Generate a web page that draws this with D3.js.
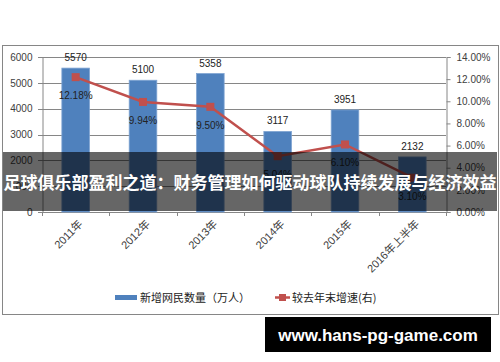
<!DOCTYPE html>
<html>
<head>
<meta charset="utf-8">
<script src="https://cdn.jsdelivr.net/npm/d3@7"></script>
<style>
  body { margin: 0; background: #fff; }
  svg text { font-family: "Liberation Sans", Arial, "Noto Sans CJK SC", sans-serif; }
</style>
</head>
<body>
<div id="chart"></div>
<script>
// data
var years = ["2011年", "2012年", "2013年", "2014年", "2015年", "2016年上半年"];
var newUsers = [5570, 5100, 5358, 3117, 3951, 2132];
var growth = [0.1218, 0.0994, 0.0950, 0.0504, 0.0610, 0.0310];
var leftTicks = [0, 1000, 2000, 3000, 4000, 5000, 6000];
var rightTicks = [0, 0.02, 0.04, 0.06, 0.08, 0.10, 0.12, 0.14];
var legendNames = ["新增网民数量（万人）", "较去年末增速(右)"];
var bannerText = "足球俱乐部盈利之道：财务管理如何驱动球队持续发展与经济效益";
var siteText = "www.hans-pg-game.com";

var width = 500, height = 362;
var plot = { left: 42, right: 446, top: 57, bottom: 212 };
var blue = "#4f81bd", red = "#c0504d", grid = "#868686", txt = "#404040";

var svg = d3.select("#chart").append("svg")
    .attr("width", width)
    .attr("height", height);

// chart border
svg.append("rect")
    .attr("x", 2.5).attr("y", 45.5)
    .attr("width", 496).attr("height", 269)
    .attr("fill", "#fff")
    .attr("stroke", grid);

var xScale = d3.scaleBand()
    .domain(years)
    .range([plot.left, plot.right])
    .paddingInner(0.59)
    .paddingOuter(0.295);
var yLeft = d3.scaleLinear().domain([0, 6000]).range([plot.bottom, plot.top]);
var yRight = d3.scaleLinear().domain([0, 0.14]).range([plot.bottom, plot.top]);

// gridlines
svg.append("g")
    .selectAll("line")
    .data(leftTicks)
    .enter()
    .append("line")
    .attr("x1", plot.left - 4).attr("x2", plot.right)
    .attr("y1", function(d) { return Math.round(yLeft(d)) + 0.5; })
    .attr("y2", function(d) { return Math.round(yLeft(d)) + 0.5; })
    .attr("stroke", grid);

// left axis
var leftAxis = d3.axisLeft(yLeft).tickValues(leftTicks).tickSize(0).tickPadding(10).tickFormat(d3.format("d"));
var gl = svg.append("g")
    .attr("transform", "translate(" + (plot.left + 0.5) + ",0)")
    .call(leftAxis);
gl.select(".domain").attr("stroke", grid);
gl.selectAll("text").attr("fill", txt).attr("font-size", 10).style("font-family", "Liberation Sans, Arial, sans-serif");

// right axis
var rightAxis = d3.axisRight(yRight).tickValues(rightTicks).tickSize(4).tickPadding(6).tickFormat(d3.format(".2%"));
var gr = svg.append("g")
    .attr("transform", "translate(" + (plot.right + 0.5) + ",0)")
    .call(rightAxis);
gr.select(".domain").attr("stroke", grid);
gr.selectAll("line").attr("stroke", grid);
gr.selectAll("text").attr("fill", txt).attr("font-size", 10).style("font-family", "Liberation Sans, Arial, sans-serif");

// x category boundary ticks
var step = xScale.step();
svg.append("g")
    .selectAll("line")
    .data(d3.range(years.length + 1))
    .enter()
    .append("line")
    .attr("x1", function(i) { return Math.round(plot.left + i * step) + 0.5; })
    .attr("x2", function(i) { return Math.round(plot.left + i * step) + 0.5; })
    .attr("y1", plot.bottom).attr("y2", plot.bottom + 4)
    .attr("stroke", grid);

// x labels
svg.append("g")
    .selectAll("text")
    .data(years)
    .enter()
    .append("text")
    .attr("transform", function(d) {
        return "translate(" + (xScale(d) + xScale.bandwidth() / 2 + 5) + "," + (plot.bottom + 10) + ") rotate(-45)";
    })
    .attr("text-anchor", "end")
    .attr("dy", "0.35em")
    .attr("font-size", 11)
    .attr("fill", txt)
    .text(function(d) { return d; });

// bars
svg.append("g")
    .selectAll("rect")
    .data(newUsers)
    .enter()
    .append("rect")
    .attr("x", function(d, i) { return xScale(years[i]); })
    .attr("y", function(d) { return yLeft(d); })
    .attr("width", xScale.bandwidth())
    .attr("height", function(d) { return plot.bottom - yLeft(d); })
    .attr("fill", blue)
    .attr("stroke", "#7ea3d2")
    .attr("stroke-width", 0.8);

// bar labels
svg.append("g")
    .selectAll("text")
    .data(newUsers)
    .enter()
    .append("text")
    .attr("x", function(d, i) { return xScale(years[i]) + xScale.bandwidth() / 2; })
    .attr("y", function(d) { return yLeft(d) - 7; })
    .attr("text-anchor", "middle")
    .attr("font-size", 10)
    .attr("fill", "#222")
    .text(function(d) { return d; });

// growth line
var cx = function(d, i) { return xScale(years[i]) + xScale.bandwidth() / 2; };
var linePath = d3.line()
    .x(cx)
    .y(function(d) { return yRight(d); });
svg.append("path")
    .attr("d", linePath(growth))
    .attr("fill", "none")
    .attr("stroke", red)
    .attr("stroke-width", 2.5);

svg.append("g")
    .selectAll("rect")
    .data(growth)
    .enter()
    .append("rect")
    .attr("x", function(d, i) { return cx(d, i) - 4; })
    .attr("y", function(d) { return yRight(d) - 4; })
    .attr("width", 8).attr("height", 8)
    .attr("fill", red);

svg.append("g")
    .selectAll("text")
    .data(growth)
    .enter()
    .append("text")
    .attr("x", cx)
    .attr("y", function(d) { return yRight(d) + 22; })
    .attr("text-anchor", "middle")
    .attr("font-size", 10)
    .attr("fill", "#222")
    .text(function(d) { return d3.format(".2%")(d); });

// legend
var lg = svg.append("g").attr("font-size", 11).attr("fill", "#222");
lg.append("rect").attr("x", 115).attr("y", 295).attr("width", 22).attr("height", 5).attr("fill", blue);
lg.append("text").attr("x", 140).attr("y", 301.5).text(legendNames[0])
    .style("font-family", "Noto Sans CJK SC, sans-serif");
lg.append("line").attr("x1", 275).attr("x2", 290).attr("y1", 297.5).attr("y2", 297.5)
    .attr("stroke", red).attr("stroke-width", 2.5);
lg.append("rect").attr("x", 279).attr("y", 294).attr("width", 7).attr("height", 7).attr("fill", red);
lg.append("text").attr("x", 292).attr("y", 301.5).text(legendNames[1])
    .style("font-family", "Noto Sans CJK SC, sans-serif");

// banner overlay
svg.append("rect")
    .attr("x", 3).attr("y", 152)
    .attr("width", 494).attr("height", 59)
    .attr("fill", "#000")
    .attr("opacity", 0.6);
svg.append("text")
    .attr("x", 250).attr("y", 183)
    .attr("dy", "0.35em")
    .attr("text-anchor", "middle")
    .attr("font-size", 17)
    .attr("font-weight", "bold")
    .attr("fill", "#fff")
    .style("font-family", "Noto Sans CJK SC, sans-serif")
    .text(bannerText);

// site mark
svg.append("rect")
    .attr("x", 265).attr("y", 317)
    .attr("width", 226).attr("height", 35)
    .attr("fill", "#000");
svg.append("text")
    .attr("x", 378).attr("y", 335)
    .attr("dy", "0.35em")
    .attr("text-anchor", "middle")
    .attr("font-size", 17)
    .attr("font-weight", "bold")
    .attr("fill", "#fff")
    .text(siteText);
</script>
</body>
</html>
